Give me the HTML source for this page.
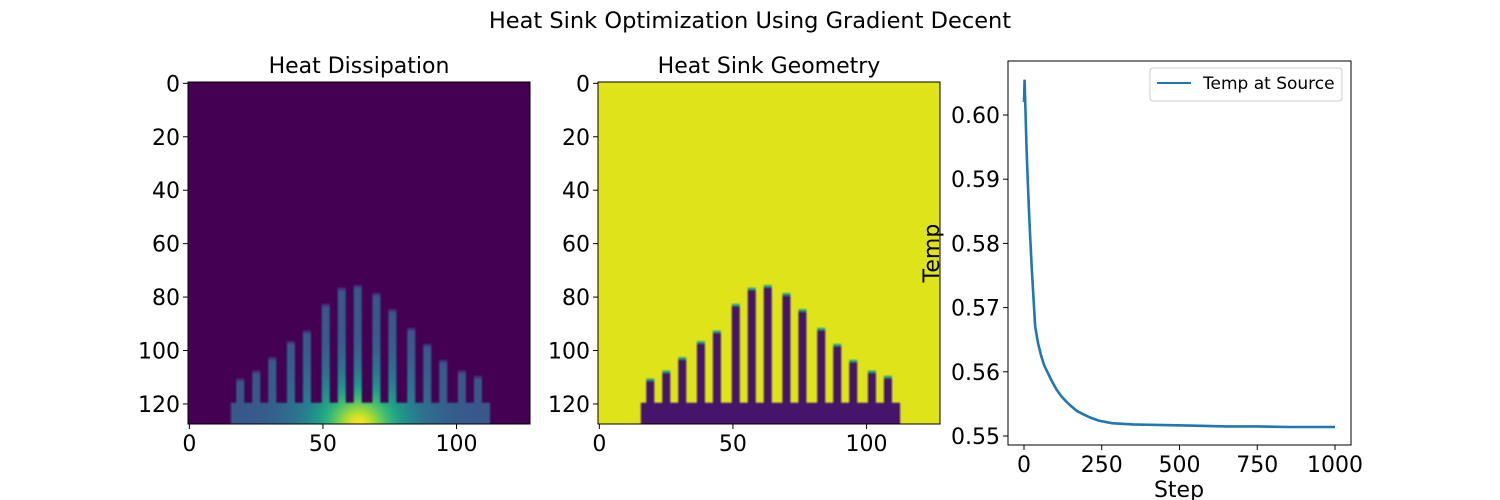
<!DOCTYPE html>
<html><head><meta charset="utf-8"><style>
body{margin:0;background:#fff}
#wrap{position:relative;width:1500px;height:500px;font-family:"DejaVu Sans","Liberation Sans",sans-serif}
canvas{position:absolute;image-rendering:auto}
svg{position:absolute;left:0;top:0}
</style></head><body>
<div id="wrap">
<canvas id="c1" width="128" height="128" style="left:188px;top:82px;width:342px;height:342px"></canvas>
<canvas id="c2" width="128" height="128" style="left:598px;top:82px;width:342px;height:342px"></canvas>
<svg id="s" width="1500" height="500"></svg>
</div>
<script>
// ---- data ----
const finStarts = [18,24,30,37,43,50,56,62,69,75,82,88,94,101,107];
const finTops = [112,109,104,98,94,84,78,77,80,86,93,99,105,109,111];
const baseRange = [16,113];
const baseTopRow = 120;
const imgTicks = [0,20,40,60,80,100,120];
const imgXTicks = [0,50,100];
const steps = [0,2,5,8,12,16,20,25,30,36,45,55,65,80,90,105,120,135,150,170,190,212,240,283,350,450,550,650,750,850,1000];
const temps = [0.602,0.6055,0.600,0.595,0.590,0.585,0.581,0.576,0.572,0.567,0.5645,0.5625,0.561,0.5595,0.5585,0.5572,0.5562,0.5554,0.5547,0.5539,0.5534,0.5529,0.5524,0.5520,0.5518,0.5517,0.5516,0.5515,0.5515,0.5514,0.5514];
const tempYTicks = [0.55,0.56,0.57,0.58,0.59,0.60];
const stepXTicks = [0,250,500,750,1000];

// ---- viridis ----
const vstops=[[68,1,84],[72,40,120],[62,73,137],[49,104,142],[38,130,142],[31,158,137],[53,183,121],[109,205,89],[180,222,44],[253,231,37]];
function viridis(v){v=Math.max(0,Math.min(1,v));const p=v*9,i=Math.min(8,Math.floor(p)),f=p-i;
return vstops[i].map((c,k)=>Math.round(c+(vstops[i+1][k]-c)*f));}
function solid(r,c){
  if(r>=baseTopRow && c>=baseRange[0] && c<baseRange[1]) return 1;
  for(let i=0;i<finStarts.length;i++){ if(c>=finStarts[i]&&c<finStarts[i]+3&&r>=finTops[i]&&r<baseTopRow) return 1; }
  return 0;
}
function tip(r,c){
  for(let i=0;i<finStarts.length;i++){ if(c>=finStarts[i]&&c<finStarts[i]+3&&r===finTops[i]-1) return 1; }
  return 0;
}
function draw(id,fn){
  const ctx=document.getElementById(id).getContext('2d');const im=ctx.createImageData(128,128);
  for(let r=0;r<128;r++)for(let c=0;c<128;c++){const col=fn(r,c);const o=(r*128+c)*4;im.data[o]=col[0];im.data[o+1]=col[1];im.data[o+2]=col[2];im.data[o+3]=255;}
  ctx.putImageData(im,0,0);
}
draw('c1',(r,c)=>{
  if(solid(r,c)){const d=Math.hypot(c-63.5,(r-127.5)*1.1);return viridis(0.27+0.73*Math.exp(-Math.pow(d/16,1.5)));}
  if(tip(r,c)) return viridis(0.15);
  return viridis(0);
});
draw('c2',(r,c)=>{
  if(solid(r,c)) return [70,20,106];
  if(tip(r,c)) return viridis(0.55);
  return [223,227,26];
});

// ---- svg ----
const S=document.getElementById('s');const NS='http://www.w3.org/2000/svg';
function el(t,a,txt){const e=document.createElementNS(NS,t);for(const k in a)e.setAttribute(k,a[k]);if(txt!==undefined)e.textContent=txt;S.appendChild(e);return e;}
let e;
e=el('text',{x:750,y:28,'text-anchor':'middle','font-size':22.5},'Heat Sink Optimization Using Gradient Decent');



const FS=22;
function imgAxes(x0,title,nm){
  const y0=82,sz=342,u=sz/128;
  const px=v=>x0+(v+0.5)*u, py=v=>y0+(v+0.5)*u;
  e=el('rect',{x:x0,y:y0,width:sz,height:sz,fill:'none',stroke:'#000','stroke-width':1});
  
  
  e=el('text',{x:x0+sz/2,y:73,'text-anchor':'middle','font-size':FS},title);
  
  
  imgTicks.forEach(t=>{
    el('line',{x1:x0,x2:x0-5,y1:py(t),y2:py(t),stroke:'#000'});
    e=el('text',{x:x0-8,y:py(t)+8,'text-anchor':'end','font-size':FS},String(t));
    
    
  });
  imgXTicks.forEach(t=>{
    el('line',{x1:px(t),x2:px(t),y1:y0+sz,y2:y0+sz+5,stroke:'#000'});
    e=el('text',{x:px(t),y:y0+sz+27,'text-anchor':'middle','font-size':FS},String(t));
    
    
  });
}
imgAxes(188,'Heat Dissipation','heat-dissipation');
imgAxes(598,'Heat Sink Geometry','heat-sink-geometry');

const L=1008,R=1351,T=61,B=445;
const xs=v=>1024+(v/1000)*311;
const ys=v=>115+(0.60-v)/0.05*321;
e=el('rect',{x:L,y:T,width:R-L,height:B-T,fill:'none',stroke:'#000'});


tempYTicks.forEach(t=>{
  el('line',{x1:L,x2:L-5,y1:ys(t),y2:ys(t),stroke:'#000'});
  e=el('text',{x:L-8,y:ys(t)+8,'text-anchor':'end','font-size':FS},t.toFixed(2));
  
  
});
stepXTicks.forEach(t=>{
  el('line',{x1:xs(t),x2:xs(t),y1:B,y2:B+5,stroke:'#000'});
  e=el('text',{x:xs(t),y:B+27,'text-anchor':'middle','font-size':FS},String(t));
  
  
});
e=el('text',{x:1179,y:497,'text-anchor':'middle','font-size':FS},'Step');


e=el('text',{x:0,y:0,'text-anchor':'middle','font-size':FS,transform:'translate(939,253) rotate(-90)'},'Temp');


e=el('path',{d:steps.map((s,i)=>(i?'L':'M')+xs(s).toFixed(1)+','+ys(temps[i]).toFixed(1)).join(''),fill:'none',stroke:'#1f77b4','stroke-width':2.6});


e=el('rect',{x:1150,y:68,width:192,height:33,rx:3,fill:'#fff',stroke:'#ccc'});


el('line',{x1:1157,x2:1191,y1:83,y2:83,stroke:'#1f77b4','stroke-width':2});
e=el('text',{x:1203,y:89,'font-size':17},'Temp at Source');


</script>
</body></html>
